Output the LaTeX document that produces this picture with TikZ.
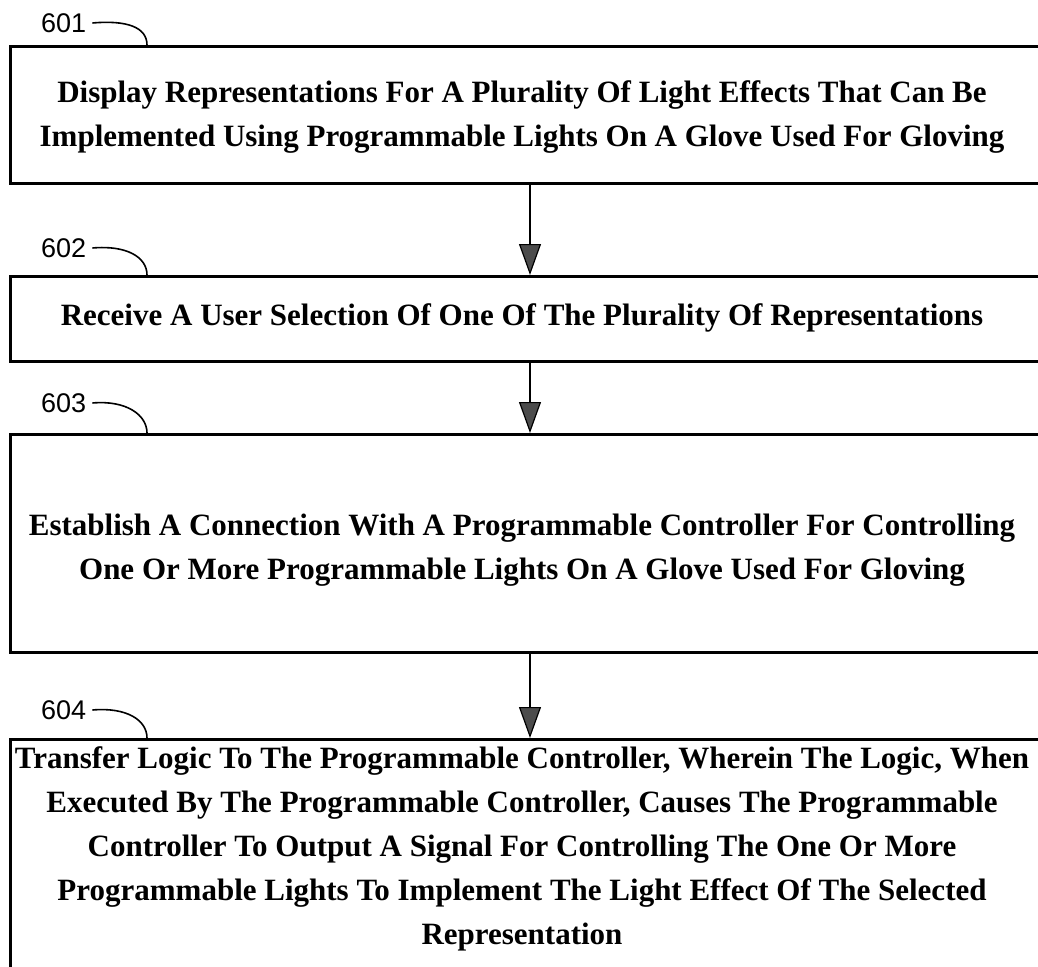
\documentclass[tikz,border=0pt]{standalone}
\usepackage{fontspec}
\setmainfont{Liberation Serif}
\newfontfamily\labfont{Liberation Sans}
\usetikzlibrary{arrows.meta,calc}
\begin{document}
\begin{tikzpicture}[x=1pt,y=-1pt,
  stepbox/.style={draw=black,line width=2.6pt,rectangle,inner sep=0pt,anchor=north west,minimum width=1080pt},
  steptext/.style={font=\fontsize{31}{44}\selectfont\bfseries,align=center,inner sep=0pt},
  reflabel/.style={font=\labfont\fontsize{27}{30}\selectfont,inner sep=0pt,anchor=west},
  leader/.style={line width=1.6pt},
  flow/.style={line width=2.6pt,-{Triangle[width=22pt,length=31pt,fill=black!70,line width=1.2pt]}}
]
\useasboundingbox (0,0) rectangle (1038,966);
\clip (0,0) rectangle (1038,966);
\node[stepbox,minimum height=137pt] (b1) at (9,45) {};
\node[stepbox,minimum height=85pt] (b2) at (9,275) {};
\node[stepbox,minimum height=218pt] (b3) at (9,433) {};
\node[stepbox,minimum height=400pt] (b4) at (9,738) {};
\node[steptext] (t1) at (522,117) {Display Representations For A Plurality Of Light Effects That Can Be\\Implemented Using Programmable Lights On A Glove Used For Gloving};
\node[steptext] (t2) at (522,318) {Receive A User Selection Of One Of The Plurality Of Representations};
\node[steptext] (t3) at (522,550) {Establish A Connection With A Programmable Controller For Controlling\\One Or More Programmable Lights On A Glove Used For Gloving};
\node[steptext,anchor=north] (t4) at (522,746) {Transfer Logic To The Programmable Controller, Wherein The Logic, When\\Executed By The Programmable Controller, Causes The Programmable\\Controller To Output A Signal For Controlling The One Or More\\Programmable Lights To Implement The Light Effect Of The Selected\\Representation};
\node[reflabel] (l1) at (41,23) {601};
\node[reflabel] (l2) at (41,248) {602};
\node[reflabel] (l3) at (41,403) {603};
\node[reflabel] (l4) at (41,710) {604};
\coordinate (e1) at ($(b1.north west)+(138,0)$);
\coordinate (e2) at ($(b2.north west)+(138,0)$);
\coordinate (e3) at ($(b3.north west)+(138,0)$);
\coordinate (e4) at ($(b4.north west)+(138,0)$);
\foreach \i in {1,2,3,4}{
  \draw[leader] ($(l\i.east)+(6,0)$) .. controls ($(l\i.east)+(40,-3)$) and ($(e\i)+(0,-18)$) .. (e\i);
}
\coordinate (ax) at (530,0);
\draw[flow] (b1.south -| ax) -- (b2.north -| ax);
\draw[flow] (b2.south -| ax) -- (b3.north -| ax);
\draw[flow] (b3.south -| ax) -- (b4.north -| ax);
\end{tikzpicture}
\end{document}
